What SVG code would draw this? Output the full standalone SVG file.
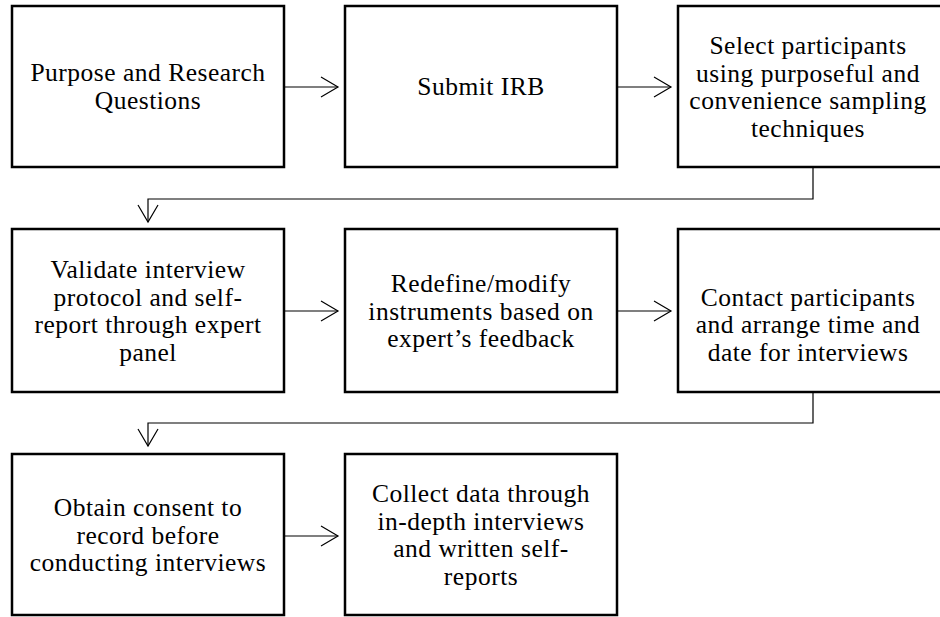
<svg xmlns="http://www.w3.org/2000/svg" width="940" height="617" viewBox="0 0 940 617">
<style>
.box{fill:#fff;stroke:#000;stroke-width:2.5}
.lbl{font-size:25.5px;letter-spacing:0.5px;fill:#000;text-anchor:middle}
.con{fill:none;stroke:#000;stroke-width:1.2}
</style>
<defs>
<marker id="ah" markerUnits="userSpaceOnUse" markerWidth="24" markerHeight="24" viewBox="-20 -12 24 24" refX="0" refY="0" orient="auto">
<polyline points="-17,-10 0,0 -17,10" fill="none" stroke="#000" stroke-width="1.2"/>
</marker>
</defs>
<rect width="940" height="617" fill="#fff"/>
<g font-family="Liberation Serif, DejaVu Serif, serif">
<g id="n1"><rect class="box" x="12" y="6" width="272" height="161"/>
<text class="lbl" x="148" y="81">Purpose and Research</text><text class="lbl" x="148" y="109">Questions</text></g>
<g id="n2"><rect class="box" x="345" y="6" width="272" height="161"/>
<text class="lbl" x="481" y="95">Submit IRB</text></g>
<g id="n3"><rect class="box" x="678" y="6" width="272" height="161"/>
<text class="lbl" x="808" y="54">Select participants</text><text class="lbl" x="808" y="81.5">using purposeful and</text><text class="lbl" x="808" y="109">convenience sampling</text><text class="lbl" x="808" y="136.5">techniques</text></g>
<g id="n4"><rect class="box" x="12" y="229" width="272" height="163"/>
<text class="lbl" x="148" y="278">Validate interview</text><text class="lbl" x="148" y="305.5">protocol and self-</text><text class="lbl" x="148" y="333">report through expert</text><text class="lbl" x="148" y="360.5">panel</text></g>
<g id="n5"><rect class="box" x="345" y="229" width="272" height="163"/>
<text class="lbl" x="481" y="292">Redefine/modify</text><text class="lbl" x="481" y="319.5">instruments based on</text><text class="lbl" x="481" y="347">expert’s feedback</text></g>
<g id="n6"><rect class="box" x="678" y="229" width="272" height="163"/>
<text class="lbl" x="808" y="305.5">Contact participants</text><text class="lbl" x="808" y="333">and arrange time and</text><text class="lbl" x="808" y="360.5">date for interviews</text></g>
<g id="n7"><rect class="box" x="12" y="454" width="272" height="161"/>
<text class="lbl" x="148" y="516">Obtain consent to</text><text class="lbl" x="148" y="543.5">record before</text><text class="lbl" x="148" y="571">conducting interviews</text></g>
<g id="n8"><rect class="box" x="345" y="454" width="272" height="161"/>
<text class="lbl" x="481" y="502">Collect data through</text><text class="lbl" x="481" y="529.5">in-depth interviews</text><text class="lbl" x="481" y="557">and written self-</text><text class="lbl" x="481" y="584.5">reports</text></g>
</g>
<g id="connectors">
<path class="con" d="M284 87 H338" marker-end="url(#ah)"/>
<path class="con" d="M617 87 H671" marker-end="url(#ah)"/>
<path class="con" d="M813 167 V199 H148 V222" marker-end="url(#ah)"/>
<path class="con" d="M284 311 H338" marker-end="url(#ah)"/>
<path class="con" d="M617 311 H671" marker-end="url(#ah)"/>
<path class="con" d="M813 392 V423 H148 V446" marker-end="url(#ah)"/>
<path class="con" d="M284 536 H338" marker-end="url(#ah)"/>
</g>
</svg>
